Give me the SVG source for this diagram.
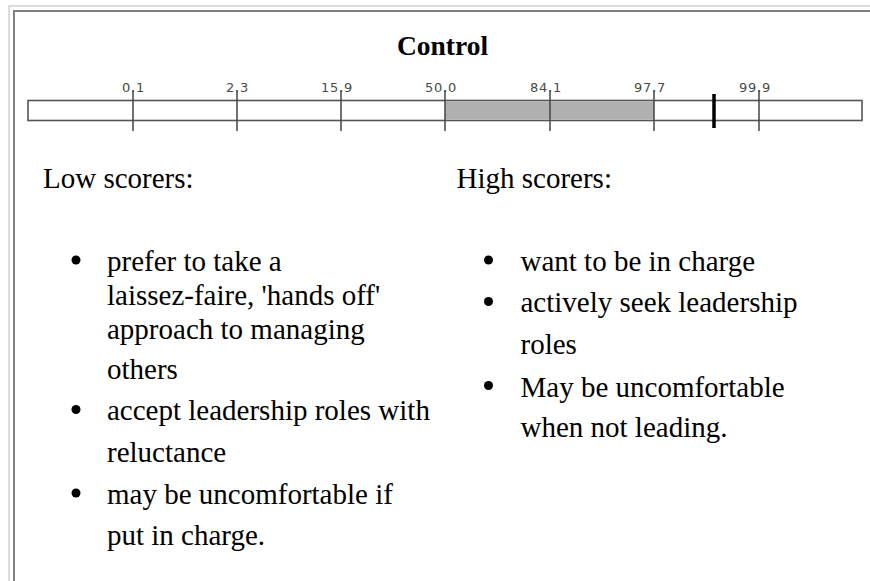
<svg xmlns="http://www.w3.org/2000/svg" width="870" height="581" viewBox="0 0 870 581">
  <style>
    .body { font-family: "Liberation Serif", "Times New Roman", serif; font-size: 29px; fill: #000; }
    .title { font-family: "Liberation Serif", "Times New Roman", serif; font-size: 27.5px; font-weight: bold; fill: #000; }
    .pct { font-family: "DejaVu Sans", Verdana, sans-serif; font-size: 13px; letter-spacing: 0.8px; fill: #4a4a4a; }
    .tick { stroke: #444; stroke-width: 1.5; }
    .bullet { fill: #000; }
  </style>

  <!-- page background and frame -->
  <rect x="0" y="0" width="870" height="581" fill="#fff"/>
  <path d="M9 581 V6 H870" fill="none" stroke="#dcdcdc" stroke-width="2"/>
  <path d="M14 581 V11 H870" fill="none" stroke="#808080" stroke-width="2"/>

  <!-- heading -->
  <g id="heading">
    <text class="title" x="442.5" y="55" text-anchor="middle">Control</text>
  </g>

  <!-- percentile scale -->
  <g id="scale">
    <rect x="28" y="100.5" width="834" height="20" fill="#fff" stroke="#555" stroke-width="1.6"/>
    <rect x="445" y="101.3" width="209" height="18.4" fill="#b0b0b0"/>
    <g id="ticks">
      <line class="tick" x1="133" y1="90" x2="133" y2="131"/>
      <line class="tick" x1="237" y1="90" x2="237" y2="131"/>
      <line class="tick" x1="341" y1="90" x2="341" y2="131"/>
      <line class="tick" x1="445" y1="90" x2="445" y2="131"/>
      <line class="tick" x1="550" y1="90" x2="550" y2="131"/>
      <line class="tick" x1="654" y1="90" x2="654" y2="131"/>
      <line class="tick" x1="759" y1="90" x2="759" y2="131"/>
    </g>
    <g id="tick-labels">
      <text class="pct" x="122" y="92">0.1</text>
      <text class="pct" x="226" y="92">2.3</text>
      <text class="pct" x="321" y="92">15.9</text>
      <text class="pct" x="425" y="92">50.0</text>
      <text class="pct" x="530" y="92">84.1</text>
      <text class="pct" x="634" y="92">97.7</text>
      <text class="pct" x="739" y="92">99.9</text>
    </g>
    <line id="score-marker" x1="714" y1="94" x2="714" y2="128" stroke="#000" stroke-width="3.5"/>
  </g>

  <!-- low scorers column -->
  <g id="low-scorers">
    <text class="body" x="43" y="188">Low scorers:</text>
    <circle class="bullet" cx="76" cy="260" r="4.5"/>
    <text class="body" x="107" y="271">prefer to take a</text>
    <text class="body" x="107" y="305">laissez-faire, 'hands off'</text>
    <text class="body" x="107" y="338.5">approach to managing</text>
    <text class="body" x="107" y="378.5">others</text>
    <circle class="bullet" cx="76" cy="409.5" r="4.5"/>
    <text class="body" x="107" y="420">accept leadership roles with</text>
    <text class="body" x="107" y="462">reluctance</text>
    <circle class="bullet" cx="76" cy="493" r="4.5"/>
    <text class="body" x="107" y="503.5">may be uncomfortable if</text>
    <text class="body" x="107" y="545">put in charge.</text>
  </g>

  <!-- high scorers column -->
  <g id="high-scorers">
    <text class="body" x="456.5" y="187.5">High scorers:</text>
    <circle class="bullet" cx="488.5" cy="260" r="4.5"/>
    <text class="body" x="520.5" y="270.5">want to be in charge</text>
    <circle class="bullet" cx="488.5" cy="301.5" r="4.5"/>
    <text class="body" x="520.5" y="312">actively seek leadership</text>
    <text class="body" x="520.5" y="353.5">roles</text>
    <circle class="bullet" cx="488.5" cy="385.5" r="4.5"/>
    <text class="body" x="520.5" y="396.5">May be uncomfortable</text>
    <text class="body" x="520.5" y="437">when not leading.</text>
  </g>
</svg>
